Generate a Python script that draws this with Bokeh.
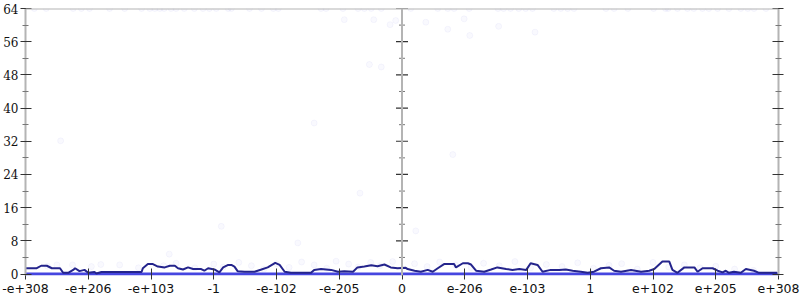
from bokeh.plotting import figure
from bokeh.models import Range1d, FixedTicker, LinearAxis, Span
from bokeh.embed import file_html
from bokeh.resources import INLINE

# tick positions (x axis is an index over the float range)
x_tick_pos = [-6, -5, -4, -3, -2, -1, 0, 1, 2, 3, 4, 5, 6]
x_tick_labels = ["-e+308", "-e+206", "-e+103", "-1", "-e-102", "-e-205", "0",
                 "e-206", "e-103", "1", "e+102", "e+205", "e+308"]
y_major = [0, 8, 16, 24, 32, 40, 48, 56, 64]
y_minor = [4, 12, 20, 28, 36, 44, 52, 60]

# smoothed count line
line_x = [-6.0, -5.82, -5.75, -5.66, -5.58, -5.45, -5.40, -5.32, -5.24, -5.21, -5.14, -5.06, -5.00,
          -4.90, -4.87, -4.79, -4.52, -4.15, -4.13, -4.05, -3.97, -3.89, -3.78, -3.70, -3.62,
          -3.57, -3.49, -3.41, -3.33, -3.20, -3.15, -3.09, -2.99, -2.91, -2.85, -2.77, -2.72,
          -2.67, -2.62, -2.51, -2.35, -2.24, -2.14, -2.02, -1.95, -1.87, -1.77, -1.45, -1.40,
          -1.29, -1.13, -1.02, -0.92, -0.78, -0.71, -0.60, -0.49, -0.39, -0.28, -0.18, -0.07,
          0.06, 0.09, 0.20, 0.30, 0.41, 0.49, 0.57, 0.67, 0.83, 0.86, 0.97, 1.05, 1.10, 1.18,
          1.31, 1.42, 1.52, 1.66, 1.76, 1.87, 1.98, 2.05, 2.16, 2.24, 2.37, 2.51, 2.61, 2.72,
          2.85, 2.96, 3.06, 3.17, 3.30, 3.38, 3.49, 3.65, 3.81, 3.94, 4.02, 4.15, 4.26, 4.31,
          4.39, 4.50, 4.66, 4.71, 4.79, 4.95, 5.03, 5.11, 5.16, 5.21, 5.29, 5.40, 5.48, 5.61,
          5.69, 5.83, 5.98]
line_y = [1.4, 1.4, 2.0, 2.0, 1.4, 1.4, 0.3, 0.3, 1.0, 1.4, 0.7, 1.0, 0.3,
          0.5, 0.15, 0.5, 0.5, 0.5, 1.4, 2.4, 2.4, 1.8, 1.6, 2.0, 2.0,
          1.4, 1.1, 1.6, 1.2, 1.2, 0.8, 1.4, 1.1, 0.4, 1.6, 2.2, 2.2,
          1.8, 0.7, 0.56, 0.56, 1.1, 1.6, 2.7, 2.2, 0.56, 0.3, 0.3, 1.0,
          1.2, 1.0, 0.56, 0.7, 0.56, 1.6, 1.8, 2.1, 1.9, 2.3, 1.6, 1.4,
          1.5, 1.2, 0.8, 0.56, 1.0, 0.56, 1.4, 2.4, 2.4, 1.6, 2.6, 2.6, 2.3, 0.8,
          0.56, 1.1, 1.6, 1.2, 1.0, 1.2, 1.0, 2.6, 2.2, 0.56, 1.0, 1.0, 1.1, 0.8,
          0.56, 0.3, 0.56, 1.4, 1.6, 0.8, 0.56, 1.0, 0.56, 0.8, 1.2, 3.0, 3.0, 1.0,
          0.3, 1.6, 1.6, 0.56, 1.4, 1.4, 0.8, 0.4, 0.8, 0.3, 0.56, 0.3, 1.2, 0.8,
          0.3, 0.3, 0.3]

# zero-count band
zero_x = [-6.0, 6.0]
zero_y = [0.0, 0.0]

# individual (faint) samples
pts_x = [-5.86, -5.67, -5.24, -5.11, -4.98, -4.66, -4.42, -4.15, -4.02, -3.94, -3.86, -3.79,
         -3.68, -3.60, -3.47, -3.31, -3.17, -3.07, -2.96, -2.77, -2.72, -2.43, -2.24, -2.05,
         -1.97, -1.29, -1.21, -0.94, -0.70, -0.60, -0.49, -0.33,
         -0.92, -0.45, -0.19, -0.10, -0.52, -0.33, -1.40, -5.44, -0.67, -2.88,
         0.14, 0.57, 0.73, 0.83, 1.07, 1.53, 1.62, 1.73, 1.86, 1.97, 2.08, 2.42, 2.53, 2.64,
         2.74, 3.25, 3.38, 3.60, 4.01, 4.20, 4.24, 4.39, 4.55, 4.65, 4.79, 4.89, 5.03, 5.21,
         5.40, 5.51, 5.61, 5.80,
         0.38, 0.99, 0.73, 1.08, 1.54, 2.12, 0.81, 0.22,
         -5.65, -5.5, -5.25, -4.95, -4.8, -4.5, -4.2, -3.71, -3.8, -3.6, -3.3, -3.0, -2.85,
         -2.6, -2.4, -2.2, -2.0, -1.8, -1.6, -1.4, -1.2, -1.05, -0.85, -0.7, -0.5, -0.35,
         -0.15, -1.66,
         0.2, 0.4, 0.6, 0.85, 1.1, 1.3, 1.55, 1.8, 2.05, 2.3, 2.55, 2.8, 3.05, 3.3, 3.5,
         3.75, 4.0, 4.25, 4.5, 4.75, 5.0, 5.3, 5.6]
pts_y = [64, 64, 64, 64, 64, 64, 64, 64, 64, 64, 64, 64,
         64, 64, 64, 64, 64, 64, 64, 64, 64, 64, 64, 64,
         64, 64, 64, 64, 64, 64, 64, 64,
         61.3, 61.3, 60.1, 61.1, 50.5, 49.9, 36.4, 32.1, 19.5, 11.5,
         64, 64, 64, 64, 64, 64, 64, 64, 64, 64, 64, 64, 64, 64,
         64, 64, 64, 64, 64, 64, 64, 64, 64, 64, 64, 64, 64, 64,
         64, 64, 64, 64,
         60.7, 61.5, 59.0, 57.5, 59.7, 58.3, 28.8, 10.4,
         1.9, 2.2, 2.2, 1.8, 2.3, 2.2, 1.5, 4.8, 2.0, 2.6, 1.5, 2.4, 1.7,
         2.8, 2.0, 1.2, 2.5, 1.6, 2.9, 2.2, 1.4, 3.1, 2.4, 1.7, 2.8, 2.0,
         3.0, 7.5,
         2.5, 1.8, 2.9, 2.2, 1.6, 2.6, 2.0, 3.0, 1.5, 2.3, 1.8, 2.7, 1.4, 2.1, 2.5,
         1.2, 2.8, 1.7, 2.2, 1.5, 1.9, 1.2, 0.9]

AXIS_GREY = "#b4b4b4"
TICK = "#333333"

p = figure(width=800, height=300, output_backend="svg", toolbar_location=None,
           x_range=Range1d(-6, 6), y_range=Range1d(-0.35, 64),
           x_axis_location=None, y_axis_location=None,
           min_border_left=24, min_border_right=22, min_border_top=8, min_border_bottom=25)
p.grid.visible = False
p.background_fill_color = "white"
p.border_fill_color = "white"
p.outline_line_color = None

# axes
yl = LinearAxis(ticker=FixedTicker(ticks=y_major, minor_ticks=y_minor))
yr = LinearAxis(ticker=FixedTicker(ticks=y_major, minor_ticks=y_minor))
xb = LinearAxis(ticker=FixedTicker(ticks=x_tick_pos))
xb.major_label_overrides = {t: l for t, l in zip(x_tick_pos, x_tick_labels)}
for ax in (yl, yr, xb):
    ax.axis_line_color = AXIS_GREY
    ax.axis_line_width = 2
    ax.major_tick_line_color = TICK
    ax.minor_tick_line_color = "#777777"
    ax.major_tick_in = 6
    ax.major_tick_out = 5
    ax.minor_tick_in = 3
    ax.minor_tick_out = 3
    ax.major_label_text_color = "#111111"
xb.axis_line_color = None
xb.major_tick_in = 7
xb.major_tick_out = 4
yl.major_label_text_font = "DejaVu Serif"
yl.major_label_text_font_size = "12px"
yl.major_label_standoff = 2
yr.major_label_text_alpha = 0
yr.major_label_text_font_size = "1px"
yr.major_label_standoff = 0
xb.major_label_text_font = "DejaVu Sans"
xb.major_label_text_font_size = "12.5px"
xb.major_label_standoff = 4
p.add_layout(yl, "left")
p.add_layout(yr, "right")
p.add_layout(xb, "below")

# frame top line and centre axis at x = 0
p.add_layout(Span(location=64, dimension="width", line_color=AXIS_GREY, line_width=2))
p.add_layout(Span(location=0, dimension="height", line_color=AXIS_GREY, line_width=2))
p.dash(x=0, y=y_major, size=12, line_color=TICK, line_width=1.2)
p.dash(x=0, y=y_minor, size=6, line_color="#777777", line_width=1)

# data
p.scatter(pts_x, pts_y, size=6, fill_color="#3a3ad8", fill_alpha=0.03,
          line_color="#3a3ad8", line_alpha=0.04)
p.line(zero_x, zero_y, line_color="#4646e0", line_width=3)
p.line(line_x, line_y, line_color="#24248c", line_width=2)

open("out.html", "w").write(file_html(p, INLINE))
